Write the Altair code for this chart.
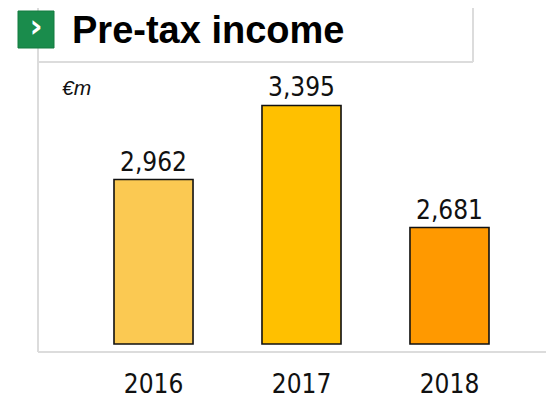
import altair as alt
import pandas as pd

years = ["2016", "2017", "2018"]
values = [2962, 3395, 2681]
labels = ["2,962", "3,395", "2,681"]
colors = ["#FBC952", "#FFC000", "#FF9900"]

df = pd.DataFrame({"year": years, "value": values, "label": labels, "color": colors})

W, H = 538, 390
OX, OY = 8, 8  # page offset

def px(v):
    return v - OX

def py(v):
    return v - OY

NARROW = "'DejaVu Sans Condensed', 'Liberation Sans Narrow', 'Roboto Condensed', Roboto, sans-serif"

xscale = alt.Scale(domain=years, range=[61.6, 525.4], paddingInner=0.466, paddingOuter=0.3)
yscale = alt.Scale(domain=[2000, 3544], range=[336, 72], zero=False, nice=False)

x = alt.X("year:N", scale=xscale, axis=None)

bars = alt.Chart(df).mark_bar(stroke="#111111", strokeWidth=1.6).encode(
    x=x,
    y=alt.Y("value:Q", scale=yscale, axis=None),
    y2=alt.datum(2000),
    color=alt.Color("color:N", scale=None),
)

vlabels = alt.Chart(df).mark_text(
    font=NARROW, fontSize=26, baseline="alphabetic", dy=-9, color="#111111"
).encode(
    x=x,
    y=alt.Y("value:Q", scale=yscale, axis=None),
    text="label:N",
)

ylabels = alt.Chart(df).mark_text(
    font=NARROW, fontSize=26, baseline="alphabetic", color="#111111"
).encode(
    x=x,
    y=alt.value(py(393)),
    text="year:N",
)

frame_color = "#DCDCDC"
base = alt.Chart(pd.DataFrame({"k": [0]}))

left_line = base.mark_rule(color=frame_color, strokeWidth=2).encode(
    x=alt.value(px(38)), y=alt.value(0), y2=alt.value(py(352)))
bottom_line = base.mark_rule(color=frame_color, strokeWidth=2).encode(
    x=alt.value(px(38)), x2=alt.value(W), y=alt.value(py(352)))
title_bottom = base.mark_rule(color=frame_color, strokeWidth=2).encode(
    x=alt.value(px(38)), x2=alt.value(px(473)), y=alt.value(py(62)))
title_right = base.mark_rule(color=frame_color, strokeWidth=2).encode(
    x=alt.value(px(473)), y=alt.value(0), y2=alt.value(py(62)))

icon = base.mark_rect(color="#1A8C4C", stroke="#137a3f", strokeWidth=1).encode(
    x=alt.value(px(18)), x2=alt.value(px(54)), y=alt.value(py(11)), y2=alt.value(py(48)))
icon_text = base.mark_text(text="›", color="white", fontSize=32, fontWeight="bold",
                           font="DejaVu Sans", baseline="middle").encode(
    x=alt.value(px(36)), y=alt.value(py(27)))

title = base.mark_text(text="Pre-tax income", font="Liberation Sans", fontWeight="bold",
                       fontSize=38, align="left", baseline="alphabetic", color="#000000").encode(
    x=alt.value(px(72)), y=alt.value(py(43)))

unit = base.mark_text(text="€m", font="Liberation Sans", fontStyle="italic",
                      fontSize=21, align="left", baseline="middle", color="#111111").encode(
    x=alt.value(px(62)), y=alt.value(py(89)))

chart = alt.layer(
    left_line, bottom_line, title_bottom, title_right,
    bars, vlabels, ylabels, icon, icon_text, title, unit,
).properties(
    width=W, height=H, padding=0, autosize="none",
).configure_view(stroke=None)

chart.save("out.html", embed_options={"renderer": "svg", "actions": False})
